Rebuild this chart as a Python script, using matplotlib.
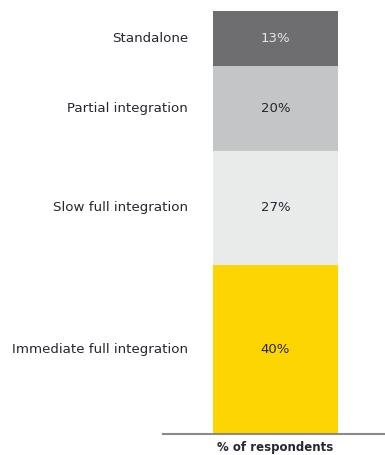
import matplotlib
matplotlib.use("Agg")
import matplotlib.pyplot as plt
import matplotlib.transforms as mtransforms

# Integration approach shares, bottom to top of the stack
categories = ["Immediate full integration", "Slow full integration",
              "Partial integration", "Standalone"]
shares = [40, 27, 20, 13]
colors = ["#fdd500", "#e9ebea", "#c4c5c7", "#6e6e70"]
value_colors = ["#262630", "#262630", "#262630", "#e6e6e6"]

fig = plt.figure(figsize=(3.85, 4.55), dpi=100)
ax = fig.add_axes([0.4234, 0.046, 0.5766, 0.93])

bottom = 0
for cat, val, col, tcol in zip(categories, shares, colors, value_colors):
    ax.bar(0.507, val, width=0.563, bottom=bottom, color=col, linewidth=0)
    mid = bottom + val / 2
    ax.text(0.507, mid, f"{val}%", ha="center", va="center",
            fontsize=9.5, color=tcol)
    # category name sits to the left of the bar
    trans = mtransforms.blended_transform_factory(fig.transFigure, ax.transData)
    ax.text(188 / 385, mid, cat, ha="right", va="center", fontsize=9.6,
            color="#262630", transform=trans)
    bottom += val

ax.set_xlim(0, 1)
ax.set_ylim(0, 100)
ax.set_xticks([])
ax.set_yticks([])
for side in ["top", "left", "right"]:
    ax.spines[side].set_visible(False)
ax.spines["bottom"].set_color("#8a8a8c")
ax.spines["bottom"].set_linewidth(1.5)

fig.text(275 / 385, 1 - 448 / 455, "% of respondents", ha="center",
         va="center", fontsize=8.5, fontweight="semibold", color="#262630")

fig.savefig("out.png", dpi=100)
